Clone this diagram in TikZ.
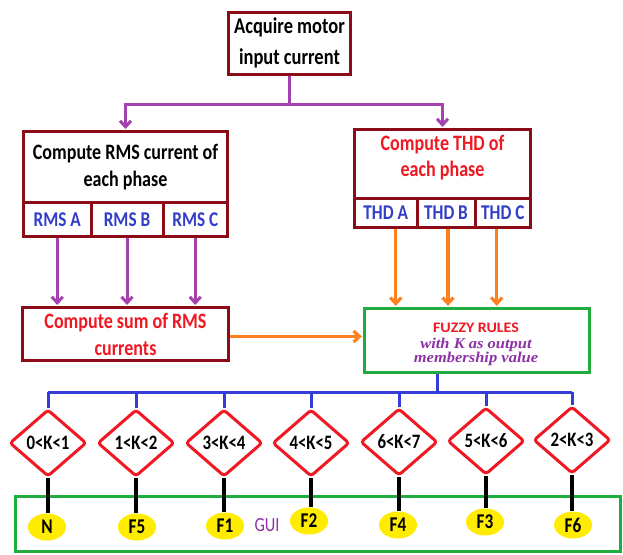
\documentclass[tikz,border=0pt]{standalone}
\usepackage{fontspec}
\setmainfont{Carlito}[FakeStretch=0.82]
\newfontfamily\widefont{Carlito}[FakeStretch=1.1]
\newfontfamily\fzser{Liberation Serif}[FakeStretch=1.1]
\usetikzlibrary{arrows.meta,shapes.geometric}
\definecolor{dred}{RGB}{139,12,22}
\definecolor{tred}{RGB}{240,24,34}
\definecolor{tblue}{RGB}{50,62,200}
\definecolor{lblue}{RGB}{50,62,215}
\definecolor{apurple}{RGB}{165,65,175}
\definecolor{fpurple}{RGB}{140,50,165}
\definecolor{orng}{RGB}{255,128,32}
\definecolor{grn}{RGB}{32,172,62}
\definecolor{ylw}{RGB}{255,236,0}
\tikzset{
  box/.style={draw=dred, line width=3pt, fill=white, inner sep=0pt, align=center,
    font=\fontsize{22}{27}\selectfont\bfseries},
  cell/.style={box, text=tblue, font=\fontsize{21}{22}\selectfont\bfseries},
  txt/.style={inner sep=0pt, align=center},
  purp/.style={draw=apurple, line width=3pt},
  orl/.style={draw=orng, line width=3.2pt},
  bll/.style={draw=lblue, line width=3pt},
  blk/.style={draw=black, line width=3.5pt},
  tipp/.style={-{Straight Barb[length=6pt,width=11pt]}, shorten >=1pt},
  kbox/.style={diamond, draw=tred, line width=3pt, fill=white, rounded corners=3pt,
    minimum width=77pt, minimum height=67pt, inner sep=0pt,
    font=\fontsize{20.5}{22}\selectfont\bfseries},
  fbub/.style={ellipse, fill=ylw, minimum width=38pt, minimum height=27pt, inner sep=0pt,
    font=\fontsize{21}{22}\selectfont\bfseries}
}
\begin{document}
\begin{tikzpicture}[x=1pt,y=-1pt]
\fill[white] (0,0) rectangle (623,554);
\useasboundingbox (0,0) rectangle (623,554);

% GUI frame
\node[draw=grn, line width=2.6pt, minimum width=605pt, minimum height=55pt, inner sep=0pt] (gui) at (318,524) {};
\node[txt, text=fpurple, font=\fontsize{20}{22}\selectfont] (guitext) at (267,525) {GUI};

% top box
\node[box, minimum width=122pt, minimum height=62pt, font=\fontsize{22.5}{31}\selectfont\bfseries] (top) at (289.5,43) {Acquire motor\\input current};

% RMS box
\node[box, minimum width=204pt, minimum height=70.5pt] (rmsmain) at (125.5,166.75) {Compute RMS current of\\each phase};
\node[cell, minimum width=67.5pt, minimum height=34.5pt] (rmsa) at (57.25,219.25) {RMS A};
\node[cell, minimum width=72pt, minimum height=34.5pt] (rmsb) at (127,219.25) {RMS B};
\node[cell, minimum width=64.5pt, minimum height=34.5pt] (rmsc) at (195.25,219.25) {RMS C};

% THD box
\node[box, minimum width=176pt, minimum height=68.5pt] (thdmain) at (442.5,163.75) {};
\node[txt, text=tred, font=\fontsize{22}{26}\selectfont\bfseries] (thdtext) at (442.5,158) {Compute THD of\\each phase};
\node[cell, minimum width=62.5pt, minimum height=29pt] (thda) at (385.75,212.5) {THD A};
\node[cell, minimum width=58pt, minimum height=29pt] (thdb) at (446,212.5) {THD B};
\node[cell, minimum width=55.5pt, minimum height=29pt] (thdc) at (502.75,212.5) {THD C};

% sum box
\node[box, text=tred, minimum width=206pt, minimum height=53pt] (sum) at (125.5,334) {Compute sum of RMS\\currents};

% fuzzy box
\node[draw=grn, line width=3.2pt, fill=white, minimum width=225pt, minimum height=64pt, inner sep=0pt] (fuzzy) at (477,340.5) {};
\node[txt, anchor=base, text=tred, font=\widefont\fontsize{14.5}{16}\selectfont\bfseries] (fz1) at (476,332) {FUZZY RULES};
\node[txt, anchor=base, text=fpurple, font=\fzser\bfseries\itshape\fontsize{15}{15}\selectfont] (fz2) at (476,348) {with K as output};
\node[txt, anchor=base, text=fpurple, font=\fzser\bfseries\itshape\fontsize{15}{15}\selectfont] (fz3) at (476,362) {membership value};

% connectors top
\coordinate (j1) at (289.5,104);
\draw[purp] (top.south) -- (j1);
\draw[purp, tipp] (j1) -| (rmsmain.north);
\draw[purp, tipp] (j1) -| (thdmain.north);

\foreach \c in {rmsa,rmsb,rmsc}
  \draw[purp, tipp] (\c.south) -- (\c.south |- sum.north);

\draw[orl, tipp] ([xshift=10pt]thda.south) -- ([xshift=10pt]thda.south |- fuzzy.north);
\draw[orl, tipp] ([xshift=2pt]thdb.south) -- ([xshift=2pt]thdb.south |- fuzzy.north);
\draw[orl, tipp] ([xshift=-6pt]thdc.south) -- ([xshift=-6pt]thdc.south |- fuzzy.north);
\draw[orl, tipp] ([yshift=-2.5pt]sum.east) -- ([yshift=-2.5pt]sum.east -| fuzzy.west);

% diamonds
\node[kbox] (d1) at (48,443) {0<K<1};
\node[kbox] (d2) at (136,443) {1<K<2};
\node[kbox] (d3) at (224,443) {3<K<4};
\node[kbox] (d4) at (311,443) {4<K<5};
\node[kbox] (d5) at (399,442) {6<K<7};
\node[kbox] (d6) at (486,441) {5<K<6};
\node[kbox] (d7) at (572,440) {2<K<3};

% bubbles
\node[fbub] (c1) at (47,527) {N};
\node[fbub] (c2) at (137,527) {F5};
\node[fbub] (c3) at (225,526) {F1};
\node[fbub] (c4) at (309,521) {F2};
\node[fbub] (c5) at (398,525) {F4};
\node[fbub] (c6) at (485,522) {F3};
\node[fbub] (c7) at (573,525) {F6};

% blue bus
\coordinate (bus) at (437,392);
\draw[bll] ([xshift=-40pt]fuzzy.south) -- (bus);
\draw[bll] (d1.north |- bus) -- (d7.north |- bus);
\foreach \d in {d1,d2,d3,d4,d5,d6,d7}
  \draw[bll] (\d.north |- bus) -- (\d.north);

% black links
\draw[blk] (d1.south) -- (d1.south |- c1.north);
\draw[blk] (d2.south) -- (d2.south |- c2.north);
\draw[blk] (d3.south) -- (d3.south |- c3.north);
\draw[blk] (d4.south) -- (d4.south |- c4.north);
\draw[blk] (d5.south) -- (d5.south |- c5.north);
\draw[blk] (d6.south) -- (d6.south |- c6.north);
\draw[blk] (d7.south) -- (d7.south |- c7.north);
\end{tikzpicture}
\end{document}
